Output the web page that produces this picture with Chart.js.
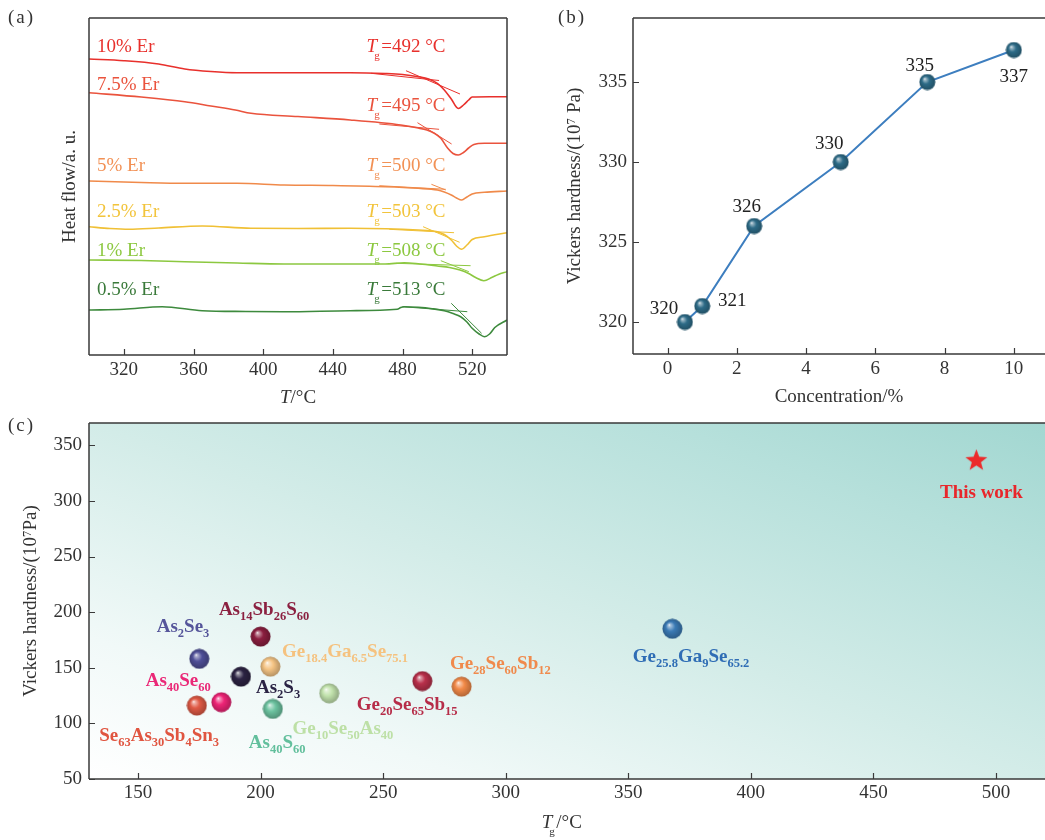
<!DOCTYPE html>
<html>
<head>
<meta charset="utf-8">
<title>Er-doped glass: DSC and Vickers hardness</title>
<script src="https://cdn.jsdelivr.net/npm/chart.js@4.4.1/dist/chart.umd.min.js"></script>
<style>
  body { margin: 0; background: #fff; font-family: "Liberation Serif", serif; }
  #page { position: relative; width: 1045px; height: 840px; overflow: hidden; }
  canvas { position: absolute; }
  #chart-a { left: 0; top: 0; }
  #chart-b { left: 520px; top: 0; }
  #chart-c { left: 0; top: 410px; }
  .tag { position: absolute; font-size: 19px; color: #333; letter-spacing: 2px; }
</style>
</head>
<body>
<div id="page">
  <canvas id="chart-a" width="520" height="410"></canvas>
  <canvas id="chart-b" width="525" height="410"></canvas>
  <canvas id="chart-c" width="1045" height="430"></canvas>
  <div class="tag" style="left:8px;top:6px">(a)</div>
  <div class="tag" style="left:558px;top:6px">(b)</div>
  <div class="tag" style="left:8px;top:414px">(c)</div>
</div>

<script>
// ── PANEL (a) DATA: DSC CURVES (heat flow in arbitrary units) ──

var ticksA = [320, 360, 400, 440, 480, 520];

var tempEr10 = [300, 320, 340, 355, 370, 385, 420, 450, 470, 480, 489, 495, 500, 504, 508, 512, 515, 518, 520, 530, 540];
var flowEr10 = [296, 294.3, 291, 286, 283.5, 282.3, 282.3, 282.3, 281.5, 280.5, 278.3, 276, 271.7, 265, 256, 246.5, 250, 255, 258, 258.3, 258.3];

var tempEr75 = [300, 330, 355, 370, 384, 393, 420, 450, 479, 489, 494, 498, 502, 506, 509, 512, 515, 518, 521, 527, 540];
var flowEr75 = [262.3, 258, 253.3, 249, 245, 241.7, 238.5, 235, 230, 227, 225, 222, 216.7, 206.7, 201.5, 200, 202.5, 207, 210.5, 211.7, 211.7];

var tempEr5 = [300, 330, 355, 385, 412, 440, 470, 489, 500, 504, 508, 511, 514, 517, 520, 527, 540];
var flowEr5 = [174, 172.5, 171.7, 171.7, 170, 169.5, 168.3, 166.7, 165, 163, 160, 157, 155, 158, 161, 162.7, 164];

var tempEr25 = [300, 312, 323, 340, 365, 393, 420, 450, 489, 500, 504, 508, 511, 514, 517, 520, 527, 540];
var flowEr25 = [128.3, 126.5, 125.7, 127, 129, 126.7, 126.5, 126.7, 125, 123.3, 120.5, 115, 109, 105.7, 110, 115.5, 118.3, 122.3];

var tempEr1 = [300, 330, 355, 385, 412, 450, 470, 481, 490, 500, 507, 513, 518, 522, 526.7, 531.5, 535, 540];
var flowEr1 = [95, 94.5, 93.3, 92, 91, 91, 91, 92.3, 91, 89, 87.5, 85, 81.5, 77.5, 74.3, 77.7, 80.5, 83.3];

var tempEr05 = [300, 320, 342, 365, 390, 412, 450, 477, 479, 481, 489, 497, 504, 509, 513.4, 517, 520, 524, 527, 530, 533, 540];
var flowEr05 = [45, 45.7, 48.3, 44.3, 43.5, 43.3, 44.3, 45.7, 47.5, 48.3, 47.7, 46.3, 44.3, 41.5, 38.3, 33, 26.7, 21, 18.3, 21, 27.5, 35];

var erLabels = ['10% Er', '7.5% Er', '5% Er', '2.5% Er', '1% Er', '0.5% Er'];
var tgValues = [492, 495, 500, 503, 508, 513];

// onset construction lines: [T1, flow1, T2, flow2]
var steepTangents = [[482, 284.3, 513, 261], [488.6, 232.3, 508.2, 211], [496.6, 170.7, 504.8, 165],
                     [491.8, 128.3, 512.8, 112.7], [502, 94.3, 518.1, 83.3], [508, 51.7, 525.4, 21.7]];
var baseTangents  = [[462, 281.7, 501, 274.5], [466.7, 231, 501, 225.7], [466.7, 169.3, 504.8, 165.7],
                     [472.4, 125.7, 509.6, 122.3], [476.2, 91.7, 519.1, 89.3], [480, 48.3, 517.2, 43.3]];

// ── PANEL (b) DATA: HARDNESS VS CONCENTRATION ──

var concValues     = [0.5, 1, 2.5, 5, 7.5, 10];
var hardnessValues = [320, 321, 326, 330, 335, 337];
var ticksBX = [0, 2, 4, 6, 8, 10];
var ticksBY = [320, 325, 330, 335];

// ── PANEL (c) DATA: HARDNESS VS Tg OF CHALCOGENIDE GLASSES ──

var compoundNames = ['As_{2}Se_{3}', 'As_{14}Sb_{26}S_{60}', 'As_{2}S_{3}', 'Ge_{18.4}Ga_{6.5}Se_{75.1}',
                     'As_{40}Se_{60}', 'Se_{63}As_{30}Sb_{4}Sn_{3}', 'As_{40}S_{60}', 'Ge_{10}Se_{50}As_{40}',
                     'Ge_{20}Se_{65}Sb_{15}', 'Ge_{28}Se_{60}Sb_{12}', 'Ge_{25.8}Ga_{9}Se_{65.2}'];
var compoundTg = [175, 200, 192, 204, 184, 174, 205, 228, 266, 282, 368];
var compoundHv = [158, 178, 142, 151, 119, 116, 113, 127, 138, 133, 185];
var thisWorkTg = [492];
var thisWorkHv = [337];
var ticksCX = [150, 200, 250, 300, 350, 400, 450, 500];
var ticksCY = [50, 100, 150, 200, 250, 300, 350];

// ── STYLES / LAYOUT ──

var curveColors = ['#e8302c', '#ea533d', '#f08a4a', '#f0c035', '#8cc840', '#3d8a3d'];
var textColorsA = ['#e8302c', '#ea533d', '#f29155', '#f2c43c', '#8cc840', '#3a7a3a'];
var erLabelRows = [303.3, 265, 184, 138.3, 99, 60];      // flow units
var tgLabelRows = [303.3, 244, 184, 138.3, 99, 60];
var erLabelTemp = 304.6;
var tgLabelTemp = 459.4;

var labelOffsetsB = [[-21, -8], [30, 0], [-7.4, -13.6], [-11.5, -12.8], [-7.5, -11], [0, 32]];

var sphereColors = ['#4f4f98', '#8b1e3f', '#2c2343', '#f6c585', '#ee2476', '#e05a45',
                    '#6cc3a0', '#c2e3ad', '#b9304b', '#f28a48', '#3a7ab5'];
var labelColorsC = ['#55559a', '#8b2040', '#2a2344', '#f5c27f', '#ea2877', '#e05540',
                    '#62bf9c', '#bde0a6', '#b62c48', '#f08a4c', '#2f6db5'];
var labelOffsetsC = [[-42.6, -27], [-41.7, -21.7], [15, 16], [11.7, -10], [-75.7, -16.6], [-97.7, 35],
                     [-24, 39], [-36.7, 40.7], [-65.6, 28.4], [-11.7, -17.7], [-39.6, 33]];

var SERIF = '"Liberation Serif", "Times New Roman", serif';
Chart.defaults.font.family = SERIF;
Chart.defaults.font.size = 19;
Chart.defaults.color = '#333';
Chart.defaults.animation = false;

// ── HELPERS ──

function toPoints(xs, ys) {
    var pts = [];
    for (var i = 0; i < xs.length; i++) pts.push({ x: xs[i], y: ys[i] });
    return pts;
}

function fixedTicks(list) {
    return function(scale) {
        scale.ticks = list.map(function(v) { return { value: v }; });
    };
}

// force the axis box size and drop label overflow padding
function boxHeight(h) {
    return function(s) { s.height = h; s.paddingLeft = 0; s.paddingRight = 0; s.paddingTop = 0; s.paddingBottom = 0; };
}
function boxWidth(w) {
    return function(s) { s.width = w; s.paddingLeft = 0; s.paddingRight = 0; s.paddingTop = 0; s.paddingBottom = 0; };
}

function hexToRgb(h) {
    var n = parseInt(h.slice(1), 16);
    return [(n >> 16) & 255, (n >> 8) & 255, n & 255];
}

function mix(rgb, to, a) {
    return 'rgb(' + Math.round(rgb[0] + (to[0] - rgb[0]) * a) + ','
                  + Math.round(rgb[1] + (to[1] - rgb[1]) * a) + ','
                  + Math.round(rgb[2] + (to[2] - rgb[2]) * a) + ')';
}

function makeSphere(hex, d) {
    var c = document.createElement('canvas');
    c.width = d; c.height = d;
    var g = c.getContext('2d');
    var r = d / 2;
    var rgb = hexToRgb(hex);
    var grad = g.createRadialGradient(r * 0.68, r * 0.62, 0, r, r, r);
    grad.addColorStop(0, '#ffffff');
    grad.addColorStop(0.12, mix(rgb, [255, 255, 255], 0.55));
    grad.addColorStop(0.45, hex);
    grad.addColorStop(1, mix(rgb, [0, 0, 0], 0.28));
    g.fillStyle = grad;
    g.beginPath();
    g.arc(r, r, r - 0.5, 0, Math.PI * 2);
    g.fill();
    return c;
}

function makeStar(color, d) {
    var c = document.createElement('canvas');
    c.width = d; c.height = d;
    var g = c.getContext('2d');
    var r = d / 2, ri = r * 0.42;
    g.fillStyle = color;
    g.beginPath();
    for (var i = 0; i < 10; i++) {
        var ang = -Math.PI / 2 + i * Math.PI / 5;
        var rad = (i % 2) ? ri : r;
        g.lineTo(r + rad * Math.cos(ang), r + 1 + rad * Math.sin(ang));
    }
    g.closePath();
    g.fill();
    return c;
}

// chemical formula with _{sub} parts
function drawFormula(ctx, text, x, y, color) {
    var parts = text.split(/_\{([^}]*)\}/);
    var cx = x;
    ctx.fillStyle = color;
    ctx.textAlign = 'left';
    ctx.textBaseline = 'alphabetic';
    for (var i = 0; i < parts.length; i++) {
        if (i % 2 === 0) {
            ctx.font = 'bold 19px ' + SERIF;
            ctx.fillText(parts[i], cx, y);
        } else {
            ctx.font = 'bold 12.5px ' + SERIF;
            ctx.fillText(parts[i], cx, y + 5);
        }
        cx += ctx.measureText(parts[i]).width;
    }
}

// italic T with optional subscript g, then the rest of the text
function drawTText(ctx, x, y, color, sub, rest) {
    ctx.fillStyle = color;
    ctx.textAlign = 'left';
    ctx.textBaseline = 'alphabetic';
    ctx.font = 'italic 19px ' + SERIF;
    ctx.fillText('T', x, y);
    var w = ctx.measureText('T').width;
    var cx = x + w;
    if (sub) {
        ctx.font = '11px ' + SERIF;
        ctx.fillText(sub, cx - 3, y + 7);
        cx += 4;
    }
    ctx.font = '19px ' + SERIF;
    ctx.fillText(rest, cx, y);
}

// ── FRAME + INWARD TICKS ──

var framePlugin = {
    id: 'frame',
    afterDraw: function(chart, args, opts) {
        var a = chart.chartArea, ctx = chart.ctx;
        var xs = chart.scales.x, ys = chart.scales.y;
        ctx.save();
        ctx.strokeStyle = '#3a3a3a';
        ctx.lineWidth = 1.5;
        ctx.beginPath();
        if (opts.top)    { ctx.moveTo(a.left, a.top);     ctx.lineTo(a.right, a.top); }
        if (opts.right)  { ctx.moveTo(a.right, a.top);    ctx.lineTo(a.right, a.bottom); }
        ctx.moveTo(a.left, a.top);    ctx.lineTo(a.left, a.bottom);
        ctx.moveTo(a.left, a.bottom); ctx.lineTo(a.right, a.bottom);
        ctx.stroke();
        ctx.lineWidth = 1.2;
        ctx.beginPath();
        xs.ticks.forEach(function(t) {
            var p = Math.round(xs.getPixelForValue(t.value)) + 0.5;
            ctx.moveTo(p, a.bottom); ctx.lineTo(p, a.bottom - 6);
        });
        if (ys.options.ticks.display) {
            ys.ticks.forEach(function(t) {
                var p = Math.round(ys.getPixelForValue(t.value)) + 0.5;
                ctx.moveTo(a.left, p); ctx.lineTo(a.left + 6, p);
            });
        }
        ctx.stroke();
        ctx.restore();
    }
};
Chart.register(framePlugin);

var plainGrid = { display: false, drawTicks: false };
var noBorder  = { display: false };

// ── PANEL (a) CHART ──

var curveTemps = [tempEr10, tempEr75, tempEr5, tempEr25, tempEr1, tempEr05];
var curveFlows = [flowEr10, flowEr75, flowEr5, flowEr25, flowEr1, flowEr05];
var dsA = [];
for (var i = 0; i < curveTemps.length; i++) {
    dsA.push({
        data: toPoints(curveTemps[i], curveFlows[i]),
        borderColor: curveColors[i],
        borderWidth: 1.6,
        pointRadius: 0,
        cubicInterpolationMode: 'monotone'
    });
    var st = steepTangents[i], bt = baseTangents[i];
    dsA.push({ data: toPoints([st[0], st[2]], [st[1], st[3]]), borderColor: curveColors[i], borderWidth: 1, pointRadius: 0 });
    dsA.push({ data: toPoints([bt[0], bt[2]], [bt[1], bt[3]]), borderColor: curveColors[i], borderWidth: 1, pointRadius: 0 });
}

new Chart(document.getElementById('chart-a'), {
    type: 'line',
    data: { datasets: dsA },
    options: {
        responsive: false,
        layout: { autoPadding: false, padding: { top: 18, right: 13, left: 0, bottom: 0 } },
        plugins: { legend: { display: false }, tooltip: { enabled: false }, frame: { top: true, right: true } },
        scales: {
            x: {
                type: 'linear', min: 300, max: 540,
                afterBuildTicks: fixedTicks(ticksA),
                afterFit: boxHeight(55),
                grid: plainGrid, border: noBorder,
                ticks: { padding: 4, color: '#333' }
            },
            y: {
                type: 'linear', min: 0, max: 337,
                afterFit: boxWidth(89),
                grid: plainGrid, border: noBorder,
                ticks: { display: false },
                title: { display: true, text: 'Heat flow/a. u.', color: '#333', padding: { top: 58.6, bottom: 0 } }
            }
        }
    },
    plugins: [{
        id: 'dscText',
        afterDraw: function(chart) {
            var ctx = chart.ctx, xs = chart.scales.x, ys = chart.scales.y;
            ctx.save();
            for (var i = 0; i < erLabels.length; i++) {
                ctx.font = '19px ' + SERIF;
                ctx.fillStyle = textColorsA[i];
                ctx.textAlign = 'left';
                ctx.textBaseline = 'alphabetic';
                ctx.fillText(erLabels[i], xs.getPixelForValue(erLabelTemp), ys.getPixelForValue(erLabelRows[i]));
                drawTText(ctx, xs.getPixelForValue(tgLabelTemp), ys.getPixelForValue(tgLabelRows[i]),
                          textColorsA[i], 'g', '=' + tgValues[i] + ' °C');
            }
            drawTText(ctx, 280, 403, '#333', '', '/°C');
            ctx.restore();
        }
    }]
});

// ── PANEL (b) CHART ──

new Chart(document.getElementById('chart-b'), {
    type: 'line',
    data: {
        datasets: [{
            data: toPoints(concValues, hardnessValues),
            borderColor: '#3d7ebf',
            borderWidth: 2,
            pointStyle: makeSphere('#2d6b87', 17),
            pointRadius: 8
        }]
    },
    options: {
        responsive: false,
        layout: { autoPadding: false, padding: { top: 18, right: 0, left: 0, bottom: 0 } },
        plugins: { legend: { display: false }, tooltip: { enabled: false }, frame: { top: true, right: false } },
        scales: {
            x: {
                type: 'linear', min: -1, max: 10.9,
                afterBuildTicks: fixedTicks(ticksBX),
                afterFit: boxHeight(56),
                grid: plainGrid, border: noBorder,
                ticks: { padding: 4, color: '#333' },
                title: { display: true, text: 'Concentration/%', color: '#333', padding: { top: 0, bottom: 1.6 } }
            },
            y: {
                type: 'linear', min: 318, max: 339,
                afterBuildTicks: fixedTicks(ticksBY),
                afterFit: boxWidth(113),
                grid: plainGrid, border: noBorder,
                ticks: { padding: 6, color: '#333' },
                title: { display: true, text: 'Vickers hardness/(10\u2077 Pa)', color: '#333', padding: { top: 43.6, bottom: 0 } }
            }
        }
    },
    plugins: [{
        id: 'valueLabels',
        afterDatasetsDraw: function(chart) {
            var ctx = chart.ctx, xs = chart.scales.x, ys = chart.scales.y;
            ctx.save();
            ctx.font = '19px ' + SERIF;
            ctx.fillStyle = '#222';
            ctx.textAlign = 'center';
            ctx.textBaseline = 'alphabetic';
            for (var i = 0; i < concValues.length; i++) {
                ctx.fillText(String(hardnessValues[i]),
                             xs.getPixelForValue(concValues[i]) + labelOffsetsB[i][0],
                             ys.getPixelForValue(hardnessValues[i]) + labelOffsetsB[i][1]);
            }
            ctx.restore();
        }
    }]
});

// ── PANEL (c) CHART ──

var sphereImgs = sphereColors.map(function(c) { return makeSphere(c, 21); });

new Chart(document.getElementById('chart-c'), {
    type: 'scatter',
    data: {
        datasets: [{
            data: toPoints(compoundTg, compoundHv),
            pointStyle: sphereImgs,
            pointRadius: 10
        }, {
            data: toPoints(thisWorkTg, thisWorkHv),
            pointStyle: makeStar('#ec2a2a', 23),
            pointRadius: 11
        }]
    },
    options: {
        responsive: false,
        layout: { autoPadding: false, padding: { top: 13, right: 0, left: 0, bottom: 0 } },
        plugins: { legend: { display: false }, tooltip: { enabled: false }, frame: { top: true, right: false } },
        scales: {
            x: {
                type: 'linear', min: 130, max: 520,
                afterBuildTicks: fixedTicks(ticksCX),
                afterFit: boxHeight(61),
                grid: plainGrid, border: noBorder,
                ticks: { padding: 3, color: '#333' }
            },
            y: {
                type: 'linear', min: 50, max: 370,
                afterBuildTicks: fixedTicks(ticksCY),
                afterFit: boxWidth(89),
                grid: plainGrid, border: noBorder,
                ticks: { padding: 7, color: '#333' },
                title: { display: true, text: 'Vickers hardness/(10\u2077Pa)', color: '#333', padding: { top: 19.6, bottom: 0 } }
            }
        }
    },
    plugins: [{
        id: 'gradientAndLabels',
        beforeDatasetsDraw: function(chart) {
            var a = chart.chartArea, ctx = chart.ctx;
            ctx.save();
            ctx.translate(a.left, a.bottom);
            ctx.scale(a.right - a.left, a.top - a.bottom);
            var g = ctx.createLinearGradient(0, 0, 1, 1);
            g.addColorStop(0, '#ffffff');
            g.addColorStop(0.2, '#f1f9f8');
            g.addColorStop(0.5, '#d3ece8');
            g.addColorStop(0.8, '#b6e0db');
            g.addColorStop(1, '#a2d7d1');
            ctx.fillStyle = g;
            ctx.fillRect(0, 0, 1, 1);
            ctx.restore();
        },
        afterDatasetsDraw: function(chart) {
            var ctx = chart.ctx, xs = chart.scales.x, ys = chart.scales.y;
            ctx.save();
            for (var i = 0; i < compoundNames.length; i++) {
                drawFormula(ctx, compoundNames[i],
                            xs.getPixelForValue(compoundTg[i]) + labelOffsetsC[i][0],
                            ys.getPixelForValue(compoundHv[i]) + labelOffsetsC[i][1],
                            labelColorsC[i]);
            }
            drawFormula(ctx, 'This work',
                        xs.getPixelForValue(thisWorkTg[0]) - 36.4,
                        ys.getPixelForValue(thisWorkHv[0]) + 38, '#e8262b');
            drawTText(ctx, 541.7, 418, '#333', 'g', '/°C');
            ctx.restore();
        }
    }]
});
</script>
</body>
</html>
